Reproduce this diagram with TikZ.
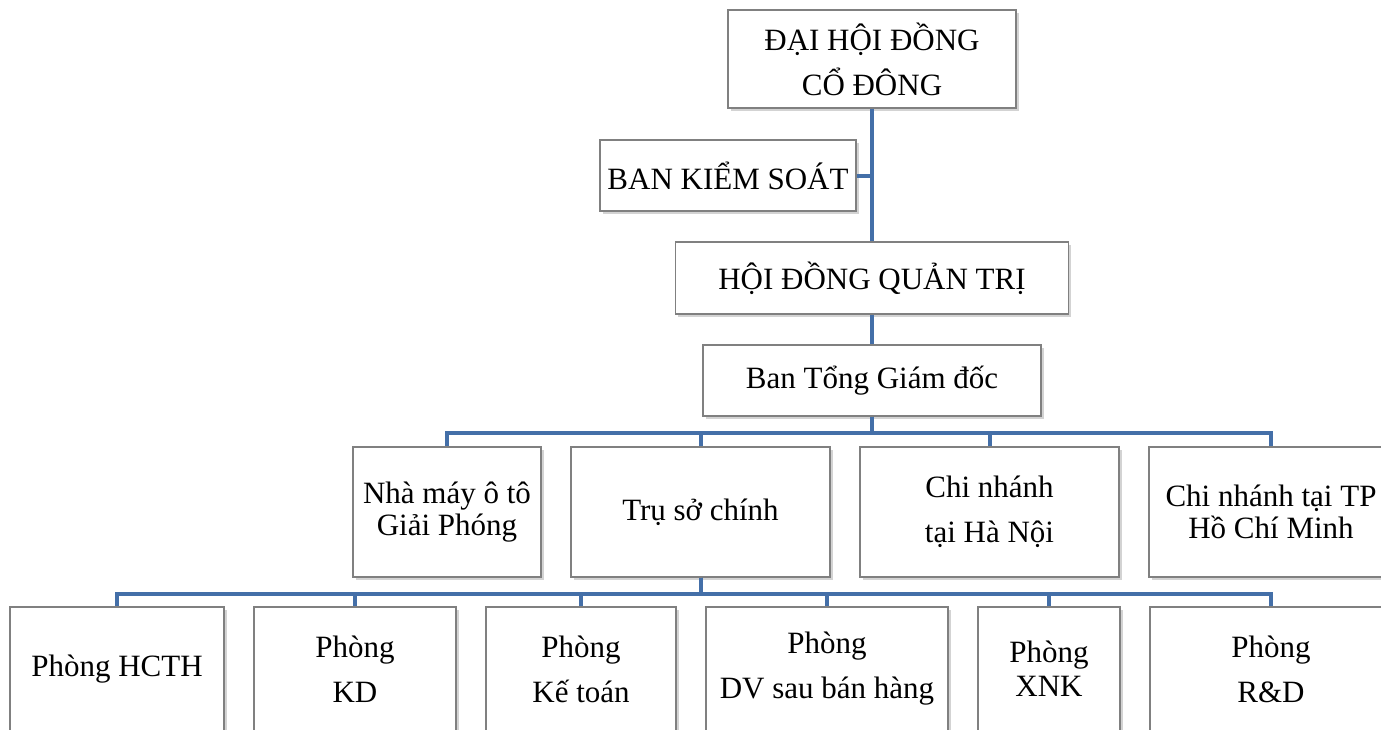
\documentclass[tikz,border=0pt]{standalone}
\usepackage{fontspec}
\setmainfont{Liberation Serif}
\usetikzlibrary{shadows}
\definecolor{lineColor}{RGB}{68,111,168}
\definecolor{boxColor}{RGB}{128,128,128}
\tikzset{
  unit/.style={draw=boxColor, line width=1.1pt, fill=white, rectangle, inner sep=0pt,
    align=center, font=\fontsize{31}{37}\selectfont,
    drop shadow={opacity=0.35, shadow xshift=2.5pt, shadow yshift=-2.5pt}},
  conn/.style={draw=lineColor, line width=4pt}
}

\begin{document}
\begin{tikzpicture}[x=1pt, y=-1pt]
  \useasboundingbox (0,0) rectangle (1381,729);
  % upper levels
  \node [unit, minimum width=288pt, minimum height=98pt] (dhd) at (872,59) {ĐẠI HỘI ĐỒNG\\[8pt]CỔ ĐÔNG};
  \node [unit, minimum width=256pt, minimum height=71pt] (bks) at (728,175.5) {BAN KIỂM SOÁT};
  \node [unit, minimum width=393pt, minimum height=72pt] (hdqt) at (872,278) {HỘI ĐỒNG QUẢN TRỊ};
  \node [unit, minimum width=338pt, minimum height=71pt] (btgd) at (872,380.5) {Ban Tổng Giám đốc};

  % units under the board of directors
  \node [unit, minimum width=188pt, minimum height=130pt] (nm) at (447,512) {Nhà máy ô tô\\[-5pt]Giải Phóng};
  \node [unit, minimum width=259pt, minimum height=130pt] (tru) at (700.5,512) {Trụ sở chính};
  \node [unit, minimum width=259pt, minimum height=130pt] (cnhn) at (989.5,512) {Chi nhánh\\[8pt]tại Hà Nội};
  \node [unit, minimum width=244pt, minimum height=130pt] (cntp) at (1271,512) {Chi nhánh tại TP\\[-5pt]Hồ Chí Minh};

  % departments
  \node [unit, minimum width=214pt, minimum height=124pt] (hcth) at (117,669) {Phòng HCTH};
  \node [unit, minimum width=202pt, minimum height=124pt] (kd) at (355,669) {Phòng\\[8pt]KD};
  \node [unit, minimum width=190pt, minimum height=124pt] (kt) at (581,669) {Phòng\\[8pt]Kế toán};
  \node [unit, minimum width=242pt, minimum height=124pt] (dv) at (827,669) {Phòng\\[8pt]DV sau bán hàng};
  \node [unit, minimum width=142pt, minimum height=124pt] (xnk) at (1049,669) {Phòng\\[-3pt]XNK};
  \node [unit, minimum width=242pt, minimum height=124pt] (rd) at (1271,669) {Phòng\\[8pt]R\&D};

  % connectors
  \draw [conn] (dhd.south) -- (hdqt.north);
  \draw [conn] (bks.east) -- (bks.east -| dhd.south);
  \draw [conn] (hdqt.south) -- (btgd.north);
  \foreach \u in {nm,tru,cnhn,cntp}
    \draw [conn] (btgd.south) -- ++(0,16) -| (\u.north);
  \foreach \u in {hcth,kd,kt,dv,xnk,rd}
    \draw [conn] (tru.south) -- ++(0,16) -| (\u.north);
\end{tikzpicture}
\end{document}
